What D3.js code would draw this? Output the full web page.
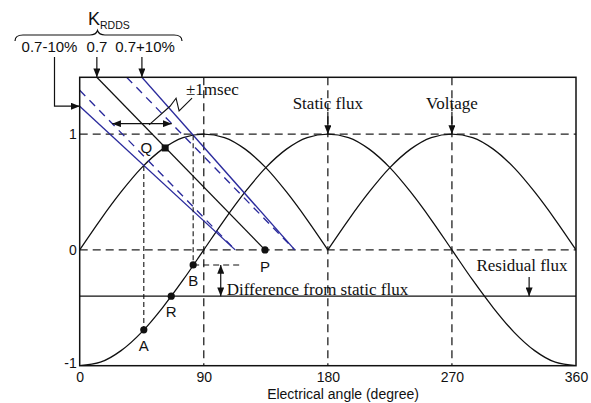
<!DOCTYPE html>
<html>
<head>
<meta charset="utf-8">
<script src="https://cdn.jsdelivr.net/npm/d3@7"></script>
<style>
  html, body { margin: 0; padding: 0; background: #fff; }
  svg { display: block; }
  .sans { font-family: "Liberation Sans", Arial, sans-serif; }
  .serif { font-family: "Liberation Serif", "Times New Roman", serif; }
</style>
</head>
<body>
<svg id="chart" width="591" height="403"></svg>
<script>
// ---- data ----
const angleTicks = [0, 90, 180, 270, 360];
const valueTicks = [-1, 0, 1];

// sampled waveforms (per-unit) every 15 electrical degrees
const sampleAngles = [0, 15, 30, 45, 60, 75, 90, 105, 120, 135, 150, 165, 180,
                      195, 210, 225, 240, 255, 270, 285, 300, 315, 330, 345, 360];
const voltage = [0, 0.26, 0.5, 0.71, 0.87, 0.97, 1, 0.97, 0.87, 0.71, 0.5, 0.26, 0,
                 0.26, 0.5, 0.71, 0.87, 0.97, 1, 0.97, 0.87, 0.71, 0.5, 0.26, 0];
const staticFlux = [-1, -0.97, -0.87, -0.71, -0.5, -0.26, 0, 0.26, 0.5, 0.71, 0.87, 0.97, 1,
                    0.97, 0.87, 0.71, 0.5, 0.26, 0, -0.26, -0.5, -0.71, -0.87, -0.97, -1];
const residualFlux = -0.40;

// decaying flux lines: slope K per radian, reaching zero at a given angle
const lineNames = ["base", "minus1ms", "plus1ms", "kLow", "kHigh"];
const lineK     = [0.7, 0.7, 0.7, 0.63, 0.77];
const lineZero  = [134.4, 112.8, 156.0, 112.8, 156.0];

const kLabels = ["0.7-10%", "0.7", "0.7+10%"];

// marked points
const markerLabels = ["A", "R", "B", "Q", "P"];
const markerAngles = [46.5, 66.4, 82.3, 62.0, 134.4];
const markerValues = [-0.69, -0.40, -0.13, 0.88, 0];

// vertical projections from the voltage curve to the static flux curve
const dropAngles = [46.5, 82.3];
const dropFrom   = [0.725, 0.99];
const dropTo     = [-0.69, -0.13];

const msecLevel = 1.09;        // height of the ±1 msec span arrow
const diffAngle = 102.3;       // position of the "difference" arrow
const diffEnd = 118.5;         // end of the dashed level line from B
const residualArrowAngle = 326;

// ---- layout ----
const svg = d3.select("#chart");
const x = d3.scaleLinear().domain([0, 360]).range([79.7, 576]);
const y = d3.scaleLinear().domain([-1, 1.49]).range([365.7, 77.3]);
const yTop = y.domain()[1];

const BLUE = "#2a2a9c";
const INK = "#111";

// arrowhead marker
const defs = svg.append("defs");
defs.append("marker")
  .attr("id", "ah").attr("viewBox", "0 0 10 8")
  .attr("refX", 10).attr("refY", 4)
  .attr("markerWidth", 9).attr("markerHeight", 7)
  .attr("markerUnits", "userSpaceOnUse")
  .attr("orient", "auto-start-reverse")
  .append("path").attr("d", "M0,0 L10,4 L0,8 Z").attr("fill", INK);

// clip for the plot area
defs.append("clipPath").attr("id", "plotClip")
  .append("rect")
  .attr("x", x(0)).attr("y", y(yTop))
  .attr("width", x(360) - x(0)).attr("height", y(-1) - y(yTop));

// ---- reference grid (dashed) ----
const grid = svg.append("g").attr("stroke", "#222").attr("stroke-width", 1.3)
  .attr("stroke-dasharray", "8,5").attr("fill", "none");
[0, 1].forEach(v => grid.append("line")
  .attr("x1", x(0)).attr("x2", x(360)).attr("y1", y(v)).attr("y2", y(v)));
[90, 180, 270].forEach(a => grid.append("line")
  .attr("x1", x(a)).attr("x2", x(a)).attr("y1", y(yTop)).attr("y2", y(-1)));

// ---- axes ----
const xAxis = svg.append("g").attr("class", "sans")
  .attr("transform", `translate(0,${y(-1)})`)
  .call(d3.axisBottom(x).tickValues(angleTicks).tickSize(0).tickPadding(6).tickFormat(d => String(d)));
const yAxis = svg.append("g").attr("class", "sans")
  .attr("transform", `translate(${x(0)},0)`)
  .call(d3.axisLeft(y).tickValues(valueTicks).tickSize(0).tickPadding(3).tickFormat(d => String(d)));
[xAxis, yAxis].forEach(g => {
  g.select(".domain").remove();
  g.selectAll("text").attr("font-size", 14).attr("fill", INK)
    .attr("font-family", "Liberation Sans, Arial, sans-serif");
});
yAxis.selectAll(".tick").filter(d => d === -1).select("text").attr("dy", "0.15em");

svg.append("text").attr("class", "sans")
  .attr("x", 343).attr("y", 399).attr("text-anchor", "middle")
  .attr("font-size", 14).attr("fill", INK)
  .text("Electrical angle (degree)");

// ---- waveforms ----
const plot = svg.append("g").attr("clip-path", "url(#plotClip)");
const pts = (vals, from, to) => sampleAngles.map((a, i) => [a, vals[i]])
  .filter(d => d[0] >= from && d[0] <= to);
const curve = d3.line().x(d => x(d[0])).y(d => y(d[1])).curve(d3.curveMonotoneX);

plot.append("path").attr("d", curve(pts(staticFlux, 0, 360)))
  .attr("fill", "none").attr("stroke", INK).attr("stroke-width", 1.3);
plot.append("path").attr("d", curve(pts(voltage, 0, 180)))
  .attr("fill", "none").attr("stroke", INK).attr("stroke-width", 1.3);
plot.append("path").attr("d", curve(pts(voltage, 180, 360)))
  .attr("fill", "none").attr("stroke", INK).attr("stroke-width", 1.3);

// residual flux level
plot.append("line")
  .attr("x1", x(0)).attr("x2", x(360))
  .attr("y1", y(residualFlux)).attr("y2", y(residualFlux))
  .attr("stroke", INK).attr("stroke-width", 1.3);

// ---- decaying flux lines ----
const lineStyle = {
  base:     { stroke: INK,  dash: null },
  minus1ms: { stroke: BLUE, dash: "8,6" },
  plus1ms:  { stroke: BLUE, dash: "8,6" },
  kLow:     { stroke: BLUE, dash: null },
  kHigh:    { stroke: BLUE, dash: null }
};
const slope = i => lineK[i] * Math.PI / 180;          // per-unit per degree
const lineValue = (i, a) => slope(i) * (lineZero[i] - a);
const lineStart = i => Math.max(0, lineZero[i] - yTop / slope(i));

lineNames.forEach((name, i) => {
  const a0 = lineStart(i);
  const st = lineStyle[name];
  plot.append("line")
    .attr("x1", x(a0)).attr("y1", y(lineValue(i, a0)))
    .attr("x2", x(lineZero[i])).attr("y2", y(0))
    .attr("stroke", st.stroke).attr("stroke-width", 1.35)
    .attr("stroke-dasharray", st.dash);
});

// ---- projections ----
dropAngles.forEach((a, i) => {
  plot.append("line")
    .attr("x1", x(a)).attr("x2", x(a))
    .attr("y1", y(dropFrom[i])).attr("y2", y(dropTo[i]))
    .attr("stroke", INK).attr("stroke-width", 1.1).attr("stroke-dasharray", "5,3");
});
// level of B carried to the right
plot.append("line")
  .attr("x1", x(markerAngles[2])).attr("x2", x(diffEnd))
  .attr("y1", y(markerValues[2])).attr("y2", y(markerValues[2]))
  .attr("stroke", INK).attr("stroke-width", 1.1).attr("stroke-dasharray", "6,4");

// difference arrow (double headed)
svg.append("line")
  .attr("x1", x(diffAngle)).attr("x2", x(diffAngle))
  .attr("y1", y(markerValues[2])).attr("y2", y(residualFlux))
  .attr("stroke", INK).attr("stroke-width", 1.2)
  .attr("marker-start", "url(#ah)").attr("marker-end", "url(#ah)");
svg.append("text").attr("class", "serif")
  .attr("x", x(diffAngle) + 6).attr("y", 295)
  .attr("font-size", 17).attr("fill", INK)
  .text("Difference from static flux");

// ±1 msec span between the shifted lines
const spanAt = i => lineZero[i] - msecLevel / slope(i);
svg.append("line")
  .attr("x1", x(spanAt(1))).attr("x2", x(spanAt(2)))
  .attr("y1", y(msecLevel)).attr("y2", y(msecLevel))
  .attr("stroke", INK).attr("stroke-width", 1.3)
  .attr("marker-start", "url(#ah)").attr("marker-end", "url(#ah)");
const leader = [[50.3, 1.08], [65.5, 1.24], [69.9, 1.31], [72.1, 1.20], [81.5, 1.31]];
svg.append("path")
  .attr("d", d3.line().x(d => x(d[0])).y(d => y(d[1]))(leader))
  .attr("fill", "none").attr("stroke", INK).attr("stroke-width", 1.1);
svg.append("text").attr("class", "serif")
  .attr("x", 186).attr("y", 95).attr("font-size", 17).attr("fill", INK)
  .text("±1msec");

// ---- curve annotations ----
const peakNote = (label, angle) => {
  svg.append("text").attr("class", "serif")
    .attr("x", x(angle)).attr("y", 109).attr("text-anchor", "middle")
    .attr("font-size", 17).attr("fill", INK).text(label);
  svg.append("line")
    .attr("x1", x(angle)).attr("x2", x(angle))
    .attr("y1", 112).attr("y2", y(1))
    .attr("stroke", INK).attr("stroke-width", 1.2).attr("marker-end", "url(#ah)");
};
peakNote("Static flux", 180);
peakNote("Voltage", 270);

svg.append("text").attr("class", "serif")
  .attr("x", 522).attr("y", 271).attr("text-anchor", "middle")
  .attr("font-size", 17).attr("fill", INK).text("Residual flux");
svg.append("line")
  .attr("x1", x(residualArrowAngle)).attr("x2", x(residualArrowAngle))
  .attr("y1", 277).attr("y2", y(residualFlux))
  .attr("stroke", INK).attr("stroke-width", 1.2).attr("marker-end", "url(#ah)");

// ---- frame ----
svg.append("rect")
  .attr("x", x(0)).attr("y", y(yTop))
  .attr("width", x(360) - x(0)).attr("height", y(-1) - y(yTop))
  .attr("fill", "none").attr("stroke", INK).attr("stroke-width", 1.5);

// ---- markers ----
const labelOffset = { A: [0, 21], R: [0, 21], B: [0, 21], P: [0, 22], Q: [-13, 5] };
markerLabels.forEach((lab, i) => {
  const cx = x(markerAngles[i]), cy = y(markerValues[i]);
  if (lab === "Q") {
    svg.append("rect").attr("x", cx - 3.5).attr("y", cy - 3.5)
      .attr("width", 7).attr("height", 7).attr("fill", INK);
  } else {
    svg.append("circle").attr("cx", cx).attr("cy", cy).attr("r", 3.6).attr("fill", INK);
  }
  const off = labelOffset[lab];
  svg.append("text").attr("class", "sans")
    .attr("x", cx + off[0]).attr("y", cy + off[1])
    .attr("text-anchor", lab === "Q" ? "end" : "middle")
    .attr("font-size", 15).attr("fill", INK).text(lab);
});

// ---- K_RDDS key ----
const key = svg.append("g").attr("class", "sans").attr("fill", INK);
const kTitle = key.append("text").attr("x", 88).attr("y", 25).attr("font-size", 18);
kTitle.append("tspan").text("K");
kTitle.append("tspan").attr("font-size", 10.5).attr("dy", 3.5).text("RDDS");

key.append("path")
  .attr("d", "M15,41 Q15,35 23,35 L90,35 Q96,35 97.5,30.5 Q99,35 105,35 L174,35 Q182,35 182,41")
  .attr("fill", "none").attr("stroke", INK).attr("stroke-width", 1.2);

const kLabelX = [49.5, 97, 145];
kLabels.forEach((t, i) => key.append("text")
  .attr("x", kLabelX[i]).attr("y", 52).attr("text-anchor", "middle")
  .attr("font-size", 15).text(t));

// arrows from the key to the lines they name
const topOf = i => x(lineStart(i));
svg.append("line").attr("x1", topOf(0)).attr("x2", topOf(0))
  .attr("y1", 57).attr("y2", y(yTop))
  .attr("stroke", INK).attr("stroke-width", 1.2).attr("marker-end", "url(#ah)");
svg.append("line").attr("x1", topOf(4)).attr("x2", topOf(4))
  .attr("y1", 57).attr("y2", y(yTop))
  .attr("stroke", INK).attr("stroke-width", 1.2).attr("marker-end", "url(#ah)");
const lowY = y(lineValue(3, 0));
svg.append("path")
  .attr("d", `M54.5,57 L54.5,${lowY} L${x(0)},${lowY}`)
  .attr("fill", "none").attr("stroke", INK).attr("stroke-width", 1.2)
  .attr("marker-end", "url(#ah)");
</script>
</body>
</html>
